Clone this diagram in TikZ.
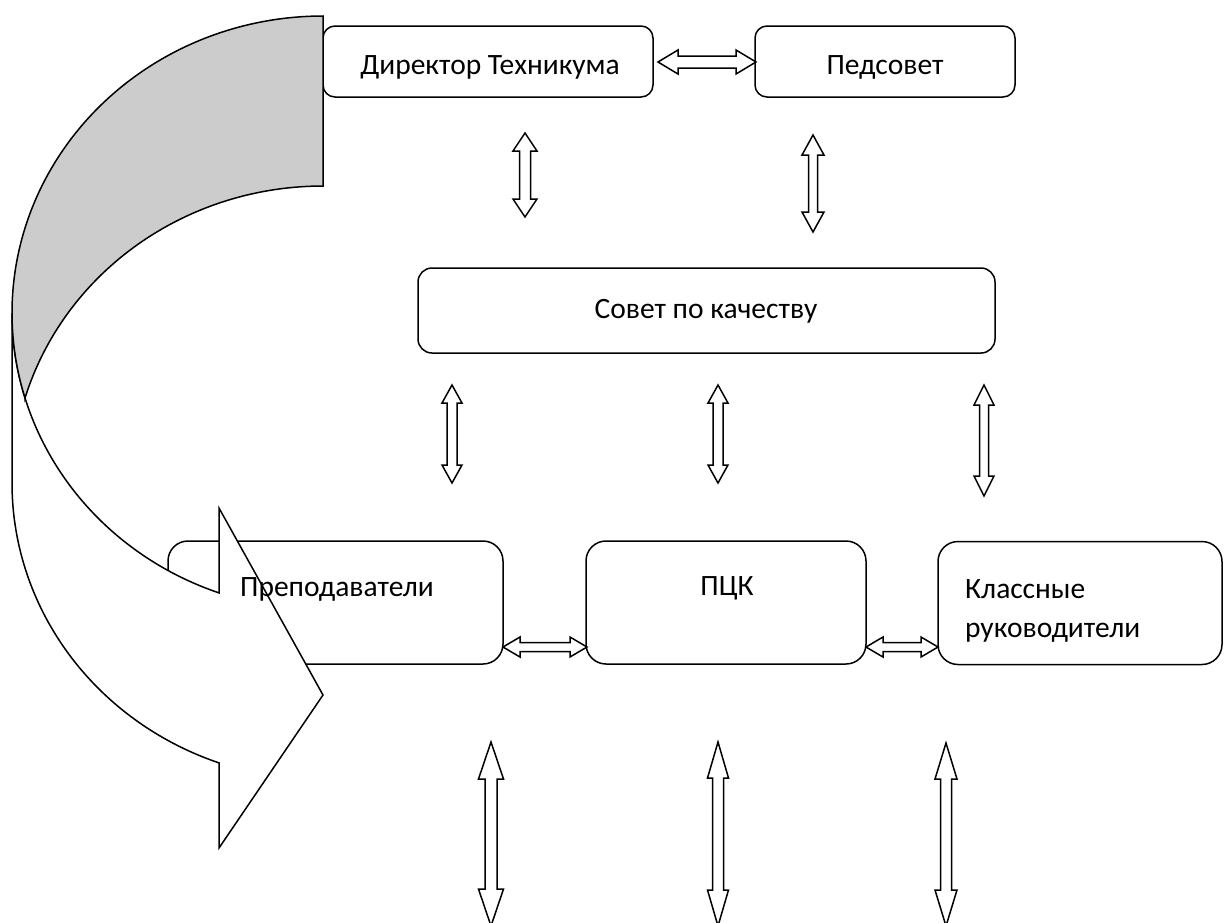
\documentclass[tikz,border=0pt]{standalone}
\usepackage{fontspec}
\setmainfont{Carlito}
\newcommand\vdarrow[6]{% x, ytop, ybot, head half-width, shaft half-width, head length
  \draw[blockarrow] (#1,#2) -- (#1+#4,#2+#6) -- (#1+#5,#2+#6) -- (#1+#5,#3-#6) -- (#1+#4,#3-#6) -- (#1,#3)
    -- (#1-#4,#3-#6) -- (#1-#5,#3-#6) -- (#1-#5,#2+#6) -- (#1-#4,#2+#6) -- cycle;}
\newcommand\hdarrow[6]{% xleft, xright, y, head half-height, shaft half-height, head length
  \draw[blockarrow] (#1,#3) -- (#1+#6,#3-#4) -- (#1+#6,#3-#5) -- (#2-#6,#3-#5) -- (#2-#6,#3-#4) -- (#2,#3)
    -- (#2-#6,#3+#4) -- (#2-#6,#3+#5) -- (#1+#6,#3+#5) -- (#1+#6,#3+#4) -- cycle;}
\begin{document}
\begin{tikzpicture}[x=1pt,y=-1pt,
  box/.style={draw, line width=1.5pt, fill=white, inner sep=0pt},
  txt/.style={font=\fontsize{29.5}{35}\selectfont, inner sep=0pt},
  blockarrow/.style={draw, line width=1.5pt, fill=white, line join=miter},
  bandline/.style={draw, line width=1.5pt, line join=miter}]
\useasboundingbox (0,0) rectangle (1224,922);
\fill[white] (0,0) rectangle (1224,922);

% boxes
\node[box, rounded corners=12pt, minimum width=330pt, minimum height=71pt] (dir) at (488,61.5) {};
\node[box, rounded corners=12pt, minimum width=260pt, minimum height=71pt] (ped) at (885,61.5) {};
\node[box, rounded corners=14pt, minimum width=577pt, minimum height=85pt] (sov) at (706.5,310.5) {};
\node[box, rounded corners=20pt, minimum width=335pt, minimum height=123pt] (pre) at (335.5,602.5) {};
\node[box, rounded corners=20pt, minimum width=280pt, minimum height=123pt] (pck) at (726,602.5) {};
\node[box, rounded corners=20pt, minimum width=284pt, minimum height=123pt] (kla) at (1080,603) {};

% curved arrow (front band, white)
\filldraw[bandline, fill=white]
  plot[domain=180:109.53, samples=60, smooth] ({323+311*cos(\x)},{313+297*sin(\x)})
  -- (219,508) -- (323,695) -- (219,848) -- (219,763)
  -- plot[domain=109.53:180, samples=60, smooth] ({323+311*cos(\x)},{483+297*sin(\x)})
  -- cycle;
% curved arrow (back band, grey)
\filldraw[bandline, fill=black!20]
  plot[domain=270:163.37, samples=80, smooth] ({323+311*cos(\x)},{313+297*sin(\x)})
  -- plot[domain=196.63:270, samples=60, smooth] ({323+311*cos(\x)},{483+297*sin(\x)})
  -- cycle;

% texts
\node[txt, anchor=base] (tdir) at (490,74) {Директор Техникума};
\node[txt, anchor=base] (tped) at (885,74) {Педсовет};
\node[txt, anchor=base] (tsov) at (706,318) {Совет по качеству};
\node[txt, anchor=base west] (tpre) at (240,596) {Преподаватели};
\node[txt, anchor=base] (tpck) at (727,595) {ПЦК};
\node[txt, anchor=base west] (tkla1) at (965,598) {Классные};
\node[txt, anchor=base west] (tkla2) at (965,637) {руководители};

% block double arrows
\hdarrow{658}{756}{62}{12}{6}{20}
\hdarrow{503}{587}{647}{10}{4.5}{17}
\hdarrow{866}{938}{647}{10}{4.5}{17}
\vdarrow{525}{133}{217}{12}{5.5}{18}
\vdarrow{813}{135}{232}{11}{4.5}{20}
\vdarrow{452}{385}{483}{10}{5}{18}
\vdarrow{718}{385}{483}{10}{5}{18}
\vdarrow{984}{385}{496}{10}{4.5}{20}
\vdarrow{491}{742}{926}{12.5}{6}{37}
\vdarrow{718}{742}{926}{10.5}{5.5}{36}
\vdarrow{946}{743}{926}{11}{5.5}{36}
\end{tikzpicture}
\end{document}
